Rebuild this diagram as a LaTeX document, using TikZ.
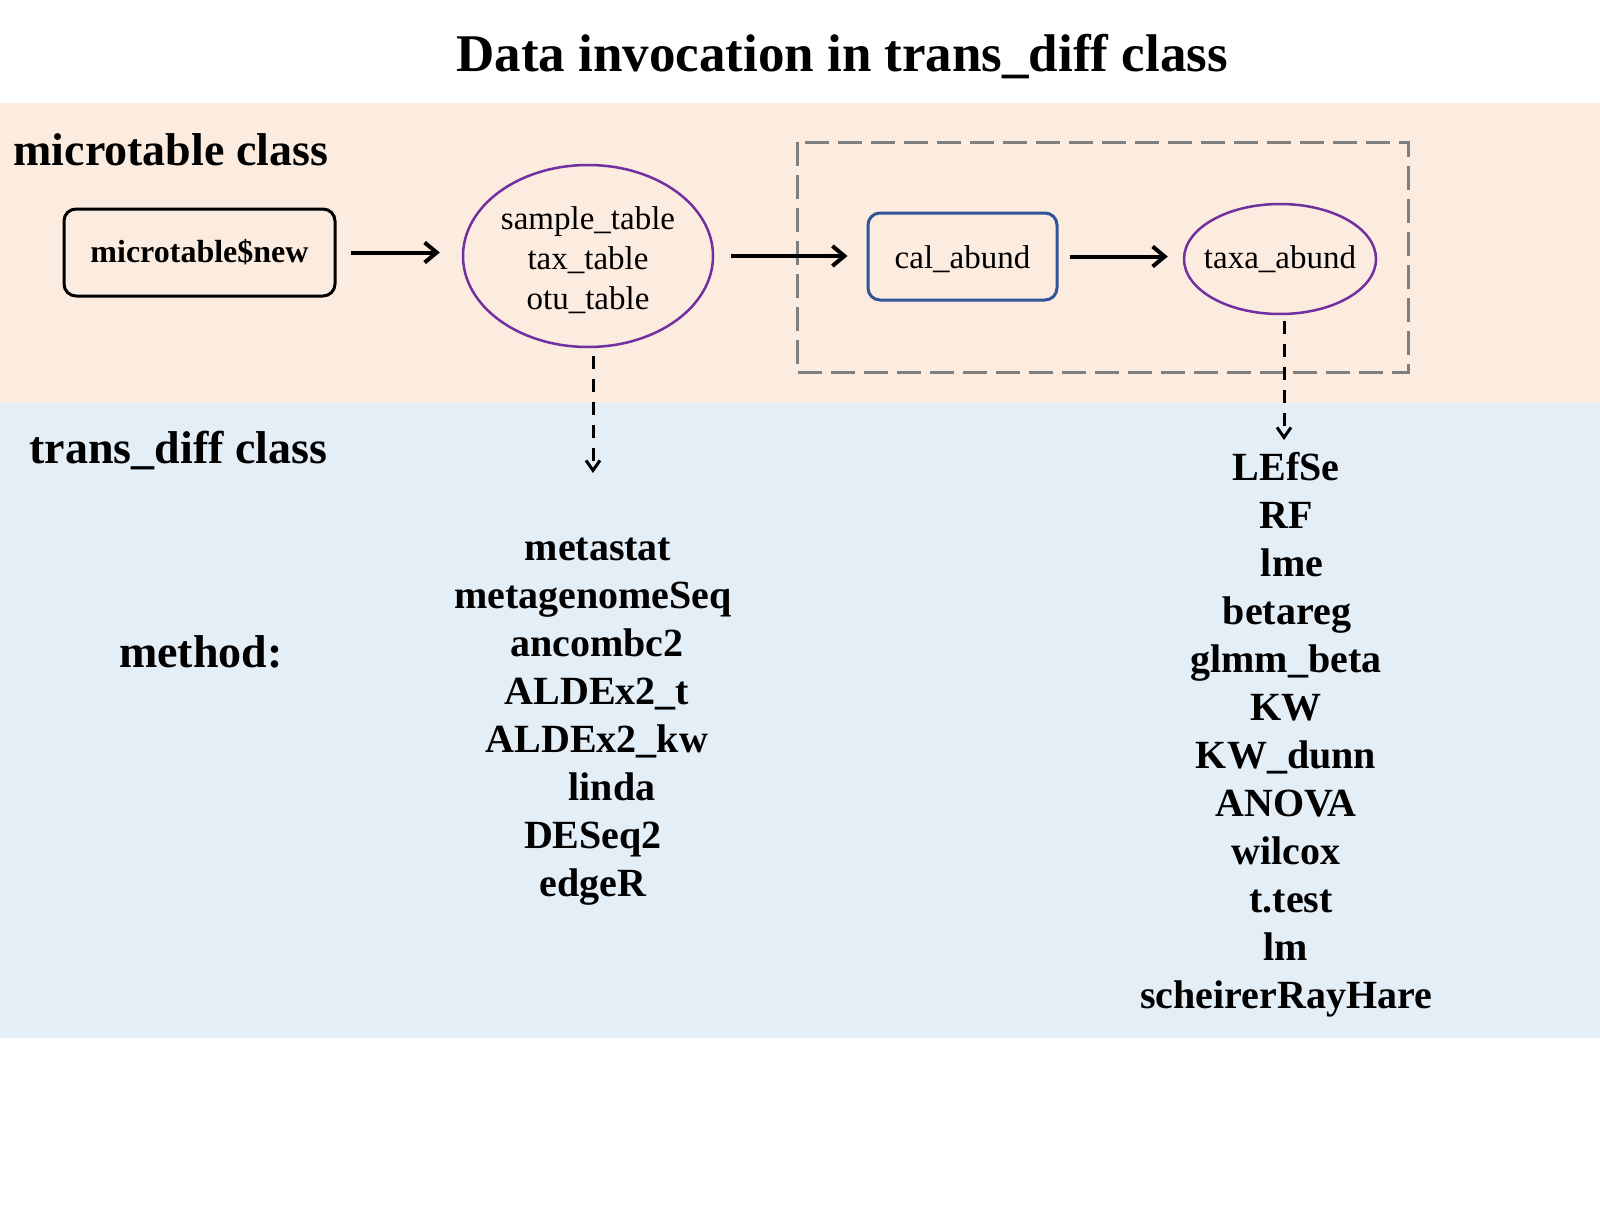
\documentclass[tikz,border=0pt]{standalone}
\usepackage{fontspec}
\setmainfont{Liberation Serif}
\usetikzlibrary{arrows.meta,shapes.geometric}
\definecolor{peach}{HTML}{FCEBDF}
\definecolor{lblue}{HTML}{E3EEF7}
\definecolor{purp}{HTML}{7030A0}
\definecolor{dblue}{HTML}{2F5597}
\definecolor{dgray}{HTML}{7F7F7F}
\tikzset{
  titletext/.style={font=\fontsize{53}{60}\selectfont\bfseries, anchor=base},
  classtext/.style={font=\fontsize{46}{52}\selectfont\bfseries, anchor=base west},
  methtext/.style={font=\fontsize{40}{48}\selectfont\bfseries, anchor=base},
  plaintext/.style={font=\fontsize{33}{40}\selectfont},
  rbox/.style={draw, rounded corners=12pt, line width=3pt, inner sep=0pt},
  ellnode/.style={ellipse, draw=purp, line width=2.5pt, inner sep=0pt, plaintext},
  flow/.style={line width=4pt, -{Straight Barb[length=12pt,width=20pt]}},
  dflow/.style={line width=3pt, dash pattern=on 13pt off 10pt, -{Straight Barb[length=10pt,width=14pt]}},
}
\begin{document}
\begin{tikzpicture}[x=1pt,y=-1pt]
\useasboundingbox (0,0) rectangle (1600,1228);
\fill[white] (0,0) rectangle (1600,1228);
\fill[peach] (0,103) rectangle (1600,403);
\fill[lblue] (0,403) rectangle (1600,1038);

\node[titletext] (title) at (842,72) {Data invocation in trans\_diff class};
\node[classtext] (mclass) at (10,165) {microtable class};
\node[classtext] (tclass) at (26,463) {trans\_diff class};
\node[classtext, anchor=base] (method) at (201,667) {method:};

% dashed group
\draw[dgray, line width=3pt, dash pattern=on 24pt off 9pt] (797,142) rectangle (1408,372);

\node[rbox, minimum width=271pt, minimum height=87pt, font=\fontsize{32}{38}\selectfont\bfseries] (new) at (199.5,252.5) {microtable\$new};
\node[ellnode, minimum width=250pt, minimum height=182pt] (tables) at (588,256)
  {\raisebox{-5pt}[\height][\depth]{\begin{tabular}{@{}c@{}}sample\_table\\tax\_table\\otu\_table\end{tabular}}};
\node[rbox, draw=dblue, minimum width=189pt, minimum height=87pt, plaintext] (cal) at (962.5,256.5)
  {\raisebox{-3pt}[\height][\depth]{cal\_abund}};
\node[ellnode, minimum width=192pt, minimum height=110pt, inner xsep=-9pt] (taxa) at (1280,259) {taxa\_abund};

\draw[flow, shorten <=14pt, shorten >=22pt] (new.east) -- (new.east -| tables.west);
\draw[flow, shorten <=17pt, shorten >=19pt] (tables.east) -- (tables.east -| cal.west);
\draw[flow, shorten <=11pt, shorten >=15pt] (cal.east) -- (cal.east -| taxa.west);

\coordinate (d1) at (593,473);
\coordinate (d2) at (1284,440);
\draw[dflow, shorten <=8pt] (tables.south -| d1) -- (d1);
\draw[dflow, shorten <=6pt] (taxa.south -| d2) -- (d2);

% left method list
\foreach \t/\x [count=\i from 0] in {metastat/598, metagenomeSeq/593, ancombc2/597, ALDEx2\_t/597, ALDEx2\_kw/597, linda/612, DESeq2/593, edgeR/593}
  \node[methtext] (l\i) at (\x, 560+48*\i) {\t};

% right method list
\foreach \t/\x [count=\i from 0] in {LEfSe/1286, RF/1286, lme/1292, betareg/1287, glmm\_beta/1286, KW/1286, KW\_dunn/1286, ANOVA/1286, wilcox/1286, t.test/1291, lm/1286, scheirerRayHare/1286}
  \node[methtext] (r\i) at (\x, 480+48*\i) {\t};
\end{tikzpicture}
\end{document}
